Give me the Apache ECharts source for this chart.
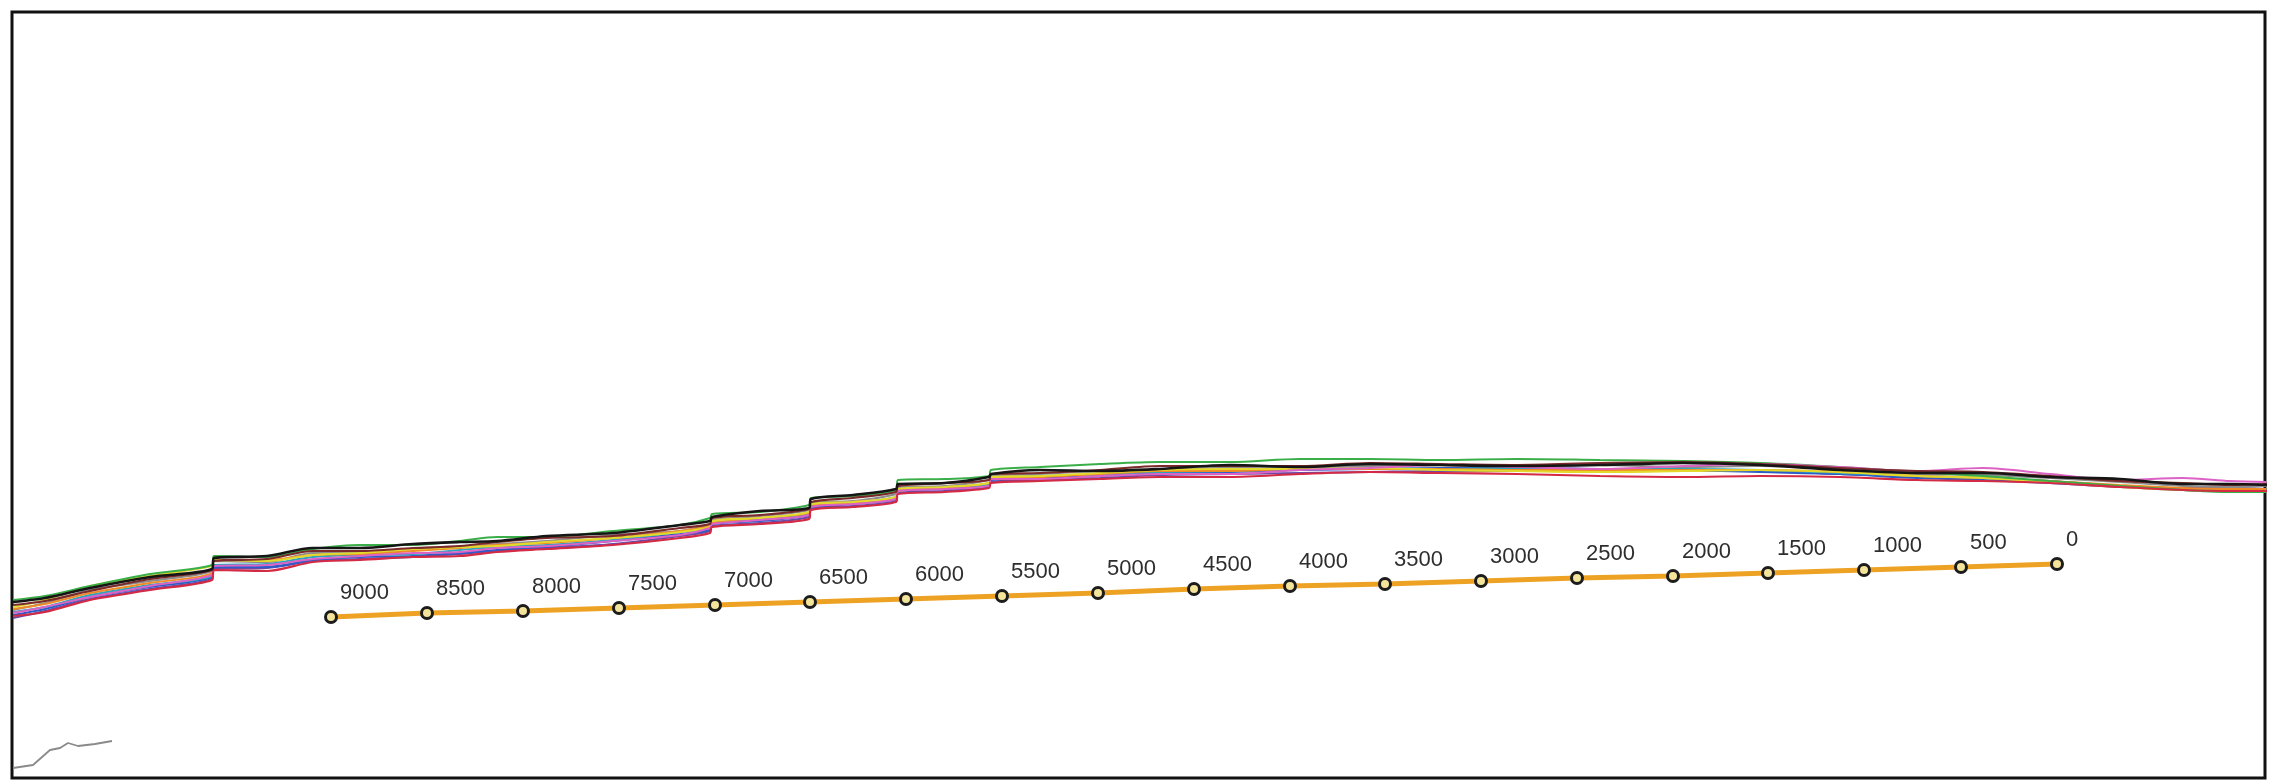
<!DOCTYPE html>
<html>
<head>
<meta charset="utf-8">
<script src="https://cdn.jsdelivr.net/npm/echarts@6/dist/echarts.min.js"></script>
<style>
html,body{margin:0;padding:0;background:#fff;}
#chart{width:2269px;height:782px;}
</style>
</head>
<body>
<div id="chart"></div>
<script>
// Map coordinates are in reference map units (x to the east, y downward)
var stationX = [13,45,90,150,212,214,267,313,360,413,460,497,547,613,680,710,712,760,809,811,853,896,898,945,989,991,1040,1100,1160,1230,1300,1370,1440,1517,1600,1683,1760,1840,1917,1983,2050,2120,2183,2230,2267];

var traceBlack  = [602,598,588,577,569,558,556,548,548,544,542,541,536,533,525,521,517,511,508,499,495,489,484,483,477,474,470,471,469,465,467,464,465,466,465,463,465,470,473,473,477,479,484,484,485];
var traceGreen  = [600,596,586,574,565,556,557,549,545,545,541,537,537,531,525,518,514,512,505,498,496,490,480,479,476,470,467,464,462,462,459,459,460,459,460,461,463,467,472,476,481,486,490,492,492];
var traceBrown  = [605,601,591,579,570,561,559,551,551,548,546,542,538,536,528,524,518,515,509,502,498,492,486,483,480,474,473,470,466,466,466,463,464,465,463,462,464,468,471,472,476,481,483,485,484];
var traceGray   = [610,603,590,581,571,561,562,553,553,549,547,544,541,535,531,524,520,516,510,503,501,494,487,486,480,476,474,471,470,467,467,466,465,466,465,467,466,469,474,475,478,482,486,487,486];
var traceYellow = [607,600,586,576,566,560,561,555,553,549,547,546,542,538,532,527,521,518,512,504,502,497,489,487,483,477,476,473,470,469,469,468,470,471,472,471,470,472,476,478,482,487,490,491,491];
var traceOrange = [609,604,593,583,573,560,560,555,554,551,548,545,543,538,531,526,523,518,513,505,503,498,491,488,483,478,477,474,471,471,469,469,469,470,470,470,470,472,476,478,481,485,488,489,489];
var traceCyan   = [612,607,595,585,576,565,564,557,555,554,550,547,545,540,532,528,523,519,514,506,503,497,490,488,484,478,476,474,472,471,469,468,469,468,469,469,470,473,476,478,482,486,489,490,489];
var traceMagenta= [613,607,597,586,575,566,565,559,556,553,552,548,546,541,535,528,524,520,515,507,504,499,491,489,486,479,479,476,474,474,470,468,465,467,469,466,464,467,471,468,474,480,478,481,482];
var traceBlue   = [615,609,597,587,577,567,567,560,557,556,553,550,547,541,534,530,524,521,515,508,504,499,491,489,486,480,478,476,473,472,470,469,468,468,469,470,472,474,478,480,483,487,490,491,491];
var tracePurple = [618,611,599,589,579,569,568,561,559,557,554,551,548,544,536,531,526,523,517,509,506,501,493,491,487,482,480,478,475,474,473,472,471,471,471,471,471,474,477,478,481,486,488,488,489];
var traceRed    = [616,612,600,590,580,570,571,562,560,557,556,552,549,545,538,533,527,524,519,510,507,502,494,492,488,483,481,479,477,477,474,472,473,474,476,477,476,477,480,481,483,487,490,491,491];

var sideTraceX = [13,33,50,60,68,78,95,112];
var sideTraceY = [768,765,750,748,743,746,744,741];

var scaleLabels = ['9000','8500','8000','7500','7000','6500','6000','5500','5000','4500','4000','3500','3000','2500','2000','1500','1000','500','0'];
var scaleX = [331,427,523,619,715,810,906,1002,1098,1194,1290,1385,1481,1577,1673,1768,1864,1961,2057];
var scaleY = [617,613,611,608,605,602,599,596,593,589,586,584,581,578,576,573,570,567,564];

var traces = [
  {name:'purple', y:tracePurple, color:'#6b4aa6', w:2},
  {name:'blue', y:traceBlue, color:'#2d5cc8', w:2.2},
  {name:'cyan', y:traceCyan, color:'#2aa6bd', w:2},
  {name:'gray', y:traceGray, color:'#8c8c8c', w:2},
  {name:'orange', y:traceOrange, color:'#f08a24', w:2},
  {name:'yellow', y:traceYellow, color:'#e3d92c', w:2.2},
  {name:'green', y:traceGreen, color:'#3aae48', w:2},
  {name:'magenta', y:traceMagenta, color:'#dc62c6', w:2},
  {name:'red', y:traceRed, color:'#d42a44', w:2.2},
  {name:'brown', y:traceBrown, color:'#7a2a2a', w:2.2},
  {name:'black', y:traceBlack, color:'#151515', w:2.6}
];

function zip(xs, ys){ var out=[]; for(var i=0;i<xs.length;i++){ out.push([xs[i], ys[i]]); } return out; }

var series = traces.map(function(t){
  return {
    type:'line', name:t.name, data: zip(stationX, t.y),
    showSymbol:false, symbol:'none', smooth:0.3,
    lineStyle:{color:t.color, width:t.w}, silent:true, z:3
  };
});

series.push({
  type:'line', name:'side', data: zip(sideTraceX, sideTraceY),
  showSymbol:false, symbol:'none', lineStyle:{color:'#8a8a8a', width:1.8}, silent:true, z:2
});

var scaleData = scaleLabels.map(function(l,i){ return {name:l, value:[scaleX[i], scaleY[i]]}; });
series.push({
  type:'line', name:'scale', data: scaleData,
  symbol:'circle', symbolSize:11, showSymbol:true,
  lineStyle:{color:'#eda224', width:5},
  itemStyle:{color:'#f3e49a', borderColor:'#1c1c1c', borderWidth:3},
  label:{show:true, position:'top', align:'left', offset:[9,-1], distance:5,
         formatter:'{b}', fontFamily:'Liberation Sans, Arial, sans-serif', fontSize:22, color:'#2e2e2e'},
  silent:true, z:5
});

var chart = echarts.init(document.getElementById('chart'), null, {renderer:'canvas'});
chart.setOption({
  animation:false,
  backgroundColor:'#ffffff',
  grid:{left:12, top:12, right:4, bottom:4, show:true, borderColor:'#111', borderWidth:3, backgroundColor:'#ffffff'},
  xAxis:{type:'value', min:12, max:2265, show:false},
  yAxis:{type:'value', min:12, max:778, inverse:true, show:false},
  series:series
});
</script>
</body>
</html>
